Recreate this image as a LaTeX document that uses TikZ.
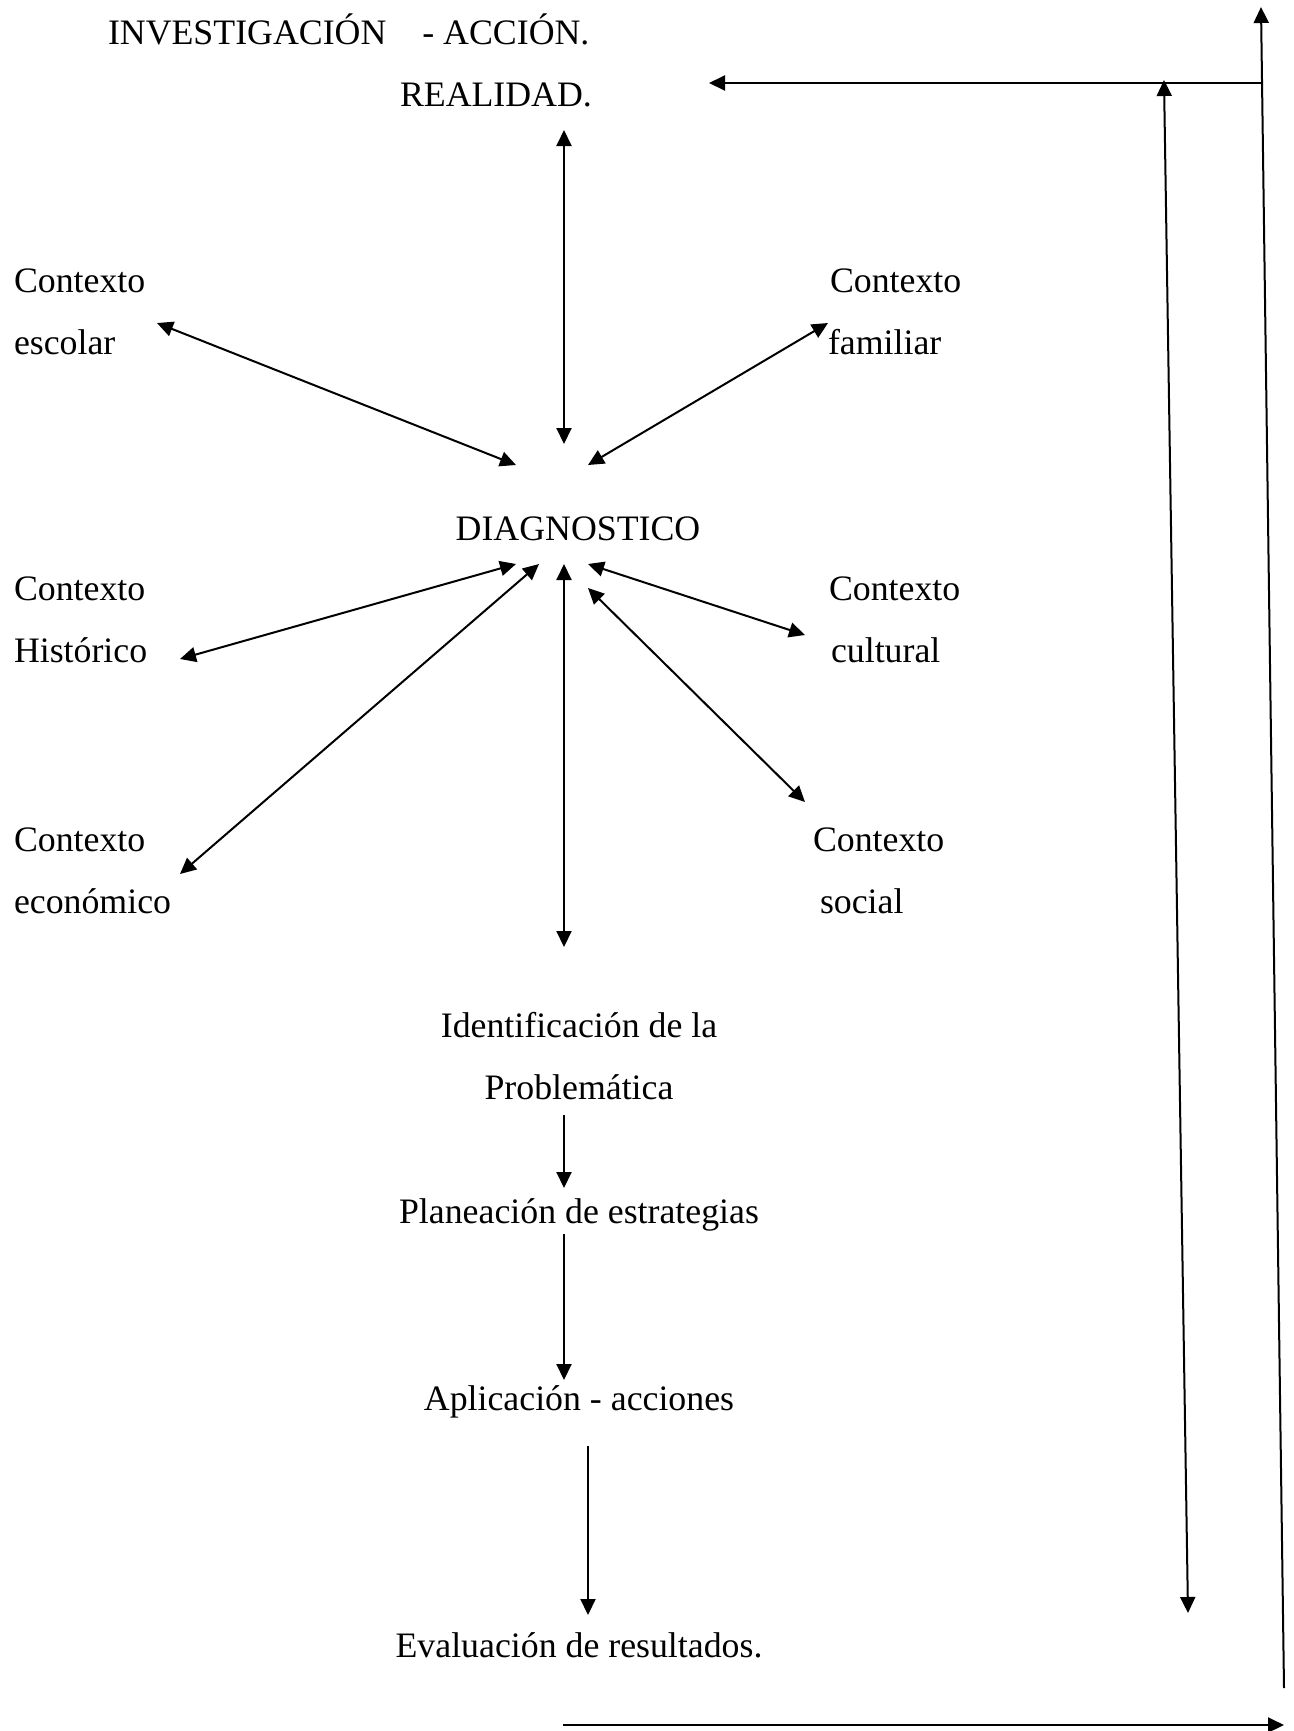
\documentclass[tikz,border=0pt]{standalone}
\usepackage{fontspec}
\setmainfont{Liberation Serif}
\usepackage{tikz}
\usetikzlibrary{arrows.meta}

\begin{document}
\begin{tikzpicture}[x=0.5pt, y=-0.5pt, line width=1pt,
    >={Triangle[length=8pt, width=7.5pt]},
    lbl/.style={inner sep=0pt, font=\fontsize{17.9}{21}\selectfont}]

    % ==========================================
    % VARIABLE DEFINITIONS (pixel grid of the page)
    % ==========================================
    % Baselines of the text rows
    \pgfmathsetmacro{\yTitle}{44}
    \pgfmathsetmacro{\yReal}{106}
    \pgfmathsetmacro{\yRowA}{292}   % Contexto escolar / familiar
    \pgfmathsetmacro{\yDiag}{540}
    \pgfmathsetmacro{\yRowB}{600}   % Contexto historico / cultural
    \pgfmathsetmacro{\yRowC}{851}   % Contexto economico / social
    \pgfmathsetmacro{\dLine}{62}    % Line distance
    \pgfmathsetmacro{\yIdent}{1037}
    \pgfmathsetmacro{\yPlan}{1223}
    \pgfmathsetmacro{\yAplic}{1410}
    \pgfmathsetmacro{\yEval}{1657}

    % Columns
    \pgfmathsetmacro{\xLeft}{13}
    \pgfmathsetmacro{\xMid}{579}
    \pgfmathsetmacro{\xAxis}{564}   % Main vertical arrows
    % ==========================================

    \useasboundingbox (0,0) rectangle (1294,1731);

    % Title and top label
    \node[lbl, anchor=base west] (titulo) at (107,\yTitle)
        {INVESTIGACIÓN\hspace{18pt}- ACCIÓN.};
    \node[lbl, anchor=base west] (realidad) at (399,\yReal) {REALIDAD.};

    % Central node
    \node[lbl, anchor=base] (diag) at (578,\yDiag) {DIAGNOSTICO};

    % Contexts on the left
    \node[lbl, anchor=base west] (ctxEsc)  at (\xLeft,\yRowA) {Contexto};
    \node[lbl, anchor=base west] (esc)     at (\xLeft,\yRowA+\dLine) {escolar};
    \node[lbl, anchor=base west] (ctxHist) at (\xLeft,\yRowB) {Contexto};
    \node[lbl, anchor=base west] (hist)    at (\xLeft,\yRowB+\dLine) {Histórico};
    \node[lbl, anchor=base west] (ctxEcon) at (\xLeft,\yRowC) {Contexto};
    \node[lbl, anchor=base west] (econ)    at (\xLeft,\yRowC+\dLine) {económico};

    % Contexts on the right
    \node[lbl, anchor=base west] (ctxFam)  at (829,\yRowA) {Contexto};
    \node[lbl, anchor=base west] (fam)     at (827,\yRowA+\dLine) {familiar};
    \node[lbl, anchor=base west] (ctxCult) at (828,\yRowB) {Contexto};
    \node[lbl, anchor=base west] (cult)    at (830,\yRowB+\dLine) {cultural};
    \node[lbl, anchor=base west] (ctxSoc)  at (812,\yRowC) {Contexto};
    \node[lbl, anchor=base west] (soc)     at (819,\yRowC+\dLine) {social};

    % Process steps
    \node[lbl, anchor=base] (ident)   at (\xMid,\yIdent) {Identificación de la};
    \node[lbl, anchor=base] (problem) at (\xMid,\yIdent+\dLine) {Problemática};
    \node[lbl, anchor=base] (plan)    at (\xMid,\yPlan) {Planeación de estrategias};
    \node[lbl, anchor=base] (aplic)   at (\xMid,\yAplic) {Aplicación - acciones};
    \node[lbl, anchor=base] (eval)    at (\xMid,\yEval) {Evaluación de resultados.};

    % Arrow ends round the diagnosis
    \coordinate (realS)   at (\xAxis,130);
    \coordinate (diagN)   at (\xAxis,444);
    \coordinate (diagNW)  at (516,465);
    \coordinate (diagNE)  at (588,465);
    \coordinate (diagSW)  at (516,564);
    \coordinate (diagSSW) at (539,564);
    \coordinate (diagS)   at (\xAxis,564);
    \coordinate (diagSE)  at (588,564);
    \coordinate (diagSSE) at (588,588);
    \coordinate (escE)    at (157,323);
    \coordinate (famW)    at (828,323);
    \coordinate (histE)   at (180,659);
    \coordinate (cultW)   at (805,635);
    \coordinate (econE)   at (180,874);
    \coordinate (socW)    at (805,802);
    \coordinate (identN)  at (\xAxis,947);

    \draw[<->] (realS) -- (diagN);
    \draw[<->] (escE) -- (diagNW);
    \draw[<->] (famW) -- (diagNE);
    \draw[<->] (histE) -- (diagSW);
    \draw[<->] (econE) -- (diagSSW);
    \draw[<->] (diagS) -- (identN);
    \draw[<->] (diagSE) -- (cultW);
    \draw[<->] (diagSSE) -- (socW);

    % Chain of steps
    \coordinate (identS) at (\xAxis,1115);
    \coordinate (planN)  at (\xAxis,1188);
    \coordinate (planS)  at (\xAxis,1234);
    \coordinate (aplicN) at (\xAxis,1380);
    \coordinate (aplicS) at (588,1446);
    \coordinate (evalN)  at (588,1615);

    \draw[->] (identS) -- (planN);
    \draw[->] (planS) -- (aplicN);
    \draw[->] (aplicS) -- (evalN);

    % Feedback frame on the right
    \coordinate (baseW)  at (563,1725);
    \coordinate (baseE)  at (1284,1725);
    \coordinate (outerB) at (1284,1688);
    \coordinate (outerT) at (1261,7);
    \coordinate (outerK) at (1261,83);
    \coordinate (realE)  at (709,83);
    \coordinate (innerT) at (1164,80);
    \coordinate (innerB) at (1188,1613);

    \draw[->] (baseW) -- (baseE);
    \draw[->] (outerB) -- (outerT);
    \draw[->] (outerK) -- (realE);
    \draw[<->] (innerT) -- (innerB);

\end{tikzpicture}
\end{document}
